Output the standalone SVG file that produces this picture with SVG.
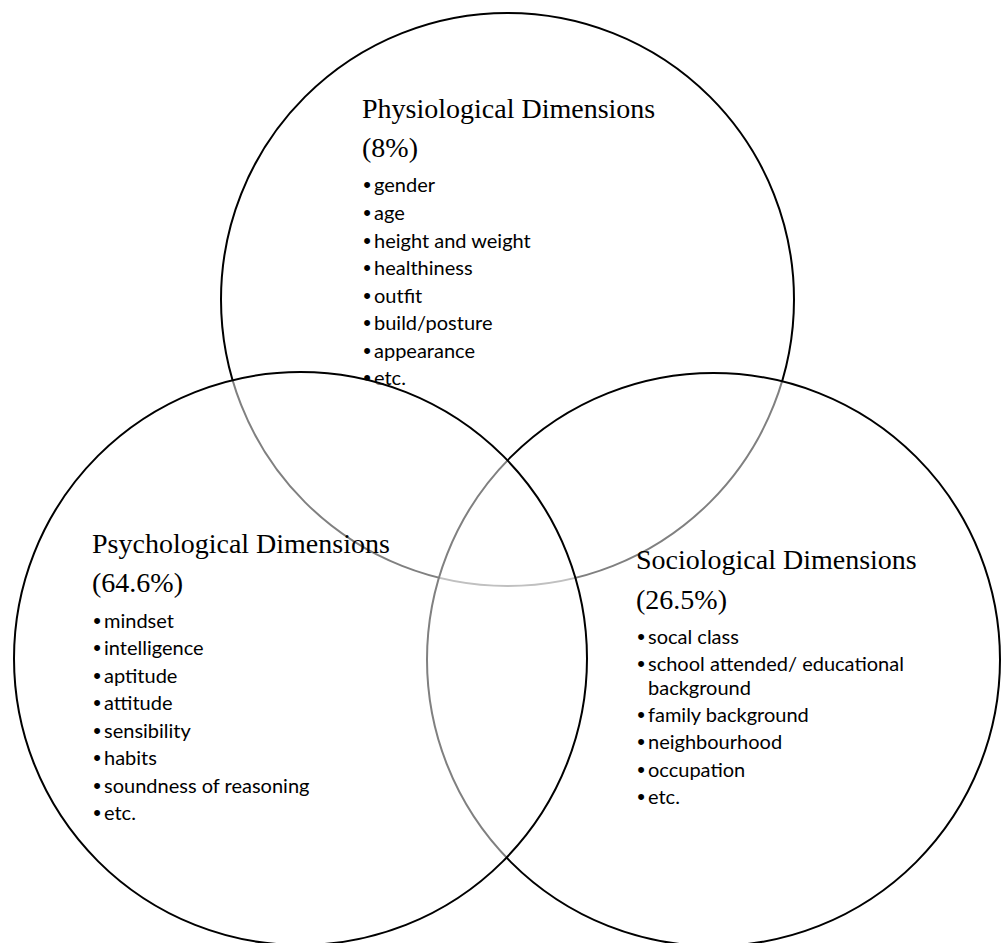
<svg xmlns="http://www.w3.org/2000/svg" width="1002" height="943" viewBox="0 0 1002 943">
<style>
.c{fill:#fff;fill-opacity:0.5;stroke:#000;stroke-width:2}
.t{font-family:"Liberation Serif","Times New Roman",serif;font-size:28px;fill:#000}
.b{font-family:Lato,"Liberation Sans",sans-serif;font-size:20px;fill:#000}
.d{font-family:"Liberation Sans",sans-serif;font-size:22px;fill:#000;text-anchor:middle}
</style>
<rect width="1002" height="943" fill="#fff"/>
<g id="connectors"/>
<g id="physiological">
<circle class="c" cx="507.5" cy="299.5" r="286.5"/>
<text class="t" x="362" y="118">Physiological Dimensions</text>
<text class="t" x="362" y="157">(8%)</text>
<g class="d">
<text x="367" y="192">•</text><text x="367" y="220">•</text><text x="367" y="247.5">•</text><text x="367" y="275">•</text><text x="367" y="302.5">•</text><text x="367" y="330">•</text><text x="367" y="357.5">•</text><text x="367" y="384.5">•</text>
</g>
<text class="b" x="374" y="192">gender</text>
<text class="b" x="374" y="220">age</text>
<text class="b" x="374" y="247.5">height and weight</text>
<text class="b" x="374" y="275">healthiness</text>
<text class="b" x="374" y="302.5">outfit</text>
<text class="b" x="374" y="330">build/posture</text>
<text class="b" x="374" y="357.5">appearance</text>
<text class="b" x="374" y="384.5">etc.</text>
</g>
<g id="sociological">
<circle class="c" cx="713.5" cy="659.5" r="286.5"/>
<text class="t" x="636" y="569">Sociological Dimensions</text>
<text class="t" x="636" y="609">(26.5%)</text>
<g class="d">
<text x="641" y="643.5">•</text><text x="641" y="671">•</text><text x="641" y="722">•</text><text x="641" y="749">•</text><text x="641" y="776.5">•</text><text x="641" y="804">•</text>
</g>
<text class="b" x="648" y="643.5">socal class</text>
<text class="b" x="648" y="671">school attended/ educational</text>
<text class="b" x="648" y="694.5">background</text>
<text class="b" x="648" y="722">family background</text>
<text class="b" x="648" y="749">neighbourhood</text>
<text class="b" x="648" y="776.5">occupation</text>
<text class="b" x="648" y="804">etc.</text>
</g>
<g id="psychological">
<circle class="c" cx="300.5" cy="658.5" r="286.5"/>
<text class="t" x="92" y="553">Psychological Dimensions</text>
<text class="t" x="92" y="592">(64.6%)</text>
<g class="d">
<text x="97" y="628">•</text><text x="97" y="655">•</text><text x="97" y="683">•</text><text x="97" y="710">•</text><text x="97" y="738">•</text><text x="97" y="765">•</text><text x="97" y="792.5">•</text><text x="97" y="820">•</text>
</g>
<text class="b" x="104" y="628">mindset</text>
<text class="b" x="104" y="655">intelligence</text>
<text class="b" x="104" y="683">aptitude</text>
<text class="b" x="104" y="710">attitude</text>
<text class="b" x="104" y="738">sensibility</text>
<text class="b" x="104" y="765">habits</text>
<text class="b" x="104" y="792.5">soundness of reasoning</text>
<text class="b" x="104" y="820">etc.</text>
</g>
</svg>
